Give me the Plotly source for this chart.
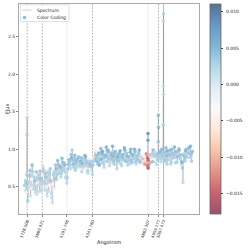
import plotly.graph_objects as go

wave = [3703, 3710, 3717, 3724, 3727, 3728.5, 3730, 3735, 3745, 3755, 3765, 3775, 3785, 3795,
        3805, 3815, 3825, 3835, 3845, 3855, 3865, 3870, 3878, 3885, 3895, 3905, 3915, 3925,
        3935, 3945, 3955, 3965, 3975, 3985, 3995, 4005, 4015, 4025, 4035, 4045, 4055, 4065,
        4075, 4085, 4095, 4101, 4110, 4120, 4130, 4140, 4150, 4160, 4170, 4180, 4190, 4200,
        4210, 4220, 4230, 4240, 4250, 4260, 4270, 4280, 4290, 4300, 4310, 4320, 4330, 4341,
        4350, 4366, 4370, 4380, 4390, 4400, 4410, 4420, 4430, 4440, 4450, 4460, 4470, 4480,
        4490, 4500, 4510, 4520, 4530, 4540, 4550, 4560, 4570, 4580, 4590, 4600, 4610, 4620,
        4630, 4640, 4650, 4660, 4670, 4680, 4690, 4700, 4710, 4720, 4730, 4740, 4750, 4760,
        4770, 4780, 4790, 4800, 4810, 4820, 4830, 4840, 4850, 4855, 4858, 4860, 4861, 4862,
        4863, 4865, 4868, 4872, 4878, 4885, 4895, 4905, 4915, 4925, 4935, 4945, 4955, 4958,
        4959, 4960, 4962, 4970, 4980, 4990, 5000, 5004, 5005, 5006, 5007, 5008, 5010, 5020,
        5030, 5040, 5050, 5060, 5070, 5080, 5090, 5100, 5110, 5120, 5130, 5140, 5150, 5160,
        5170, 5180, 5190, 5200, 5210, 5220, 5230, 5240, 5250, 5260, 5270, 5278]

flux = [0.52, 0.61, 0.45, 0.66, 1.19, 1.42, 0.55, 0.31, 0.57, 0.72, 0.48, 0.79, 0.52, 0.64,
        0.42, 0.70, 0.55, 0.66, 0.44, 0.61, 0.50, 0.58, 0.77, 0.72, 0.46, 0.63, 0.38, 0.70,
        0.52, 0.74, 0.41, 0.29, 0.66, 0.47, 0.79, 0.60, 0.85, 0.68, 0.78, 0.63, 0.88, 0.72,
        0.82, 0.70, 0.64, 0.55, 0.74, 0.86, 0.78, 0.93, 0.99, 0.80, 0.88, 0.72, 0.85, 0.76,
        0.90, 0.79, 0.84, 0.70, 0.87, 0.78, 0.92, 0.74, 0.86, 0.68, 0.83, 0.77, 0.88, 0.66,
        0.84, 0.98, 0.85, 0.92, 0.80, 0.95, 0.86, 1.01, 0.82, 0.93, 0.76, 0.90, 1.03, 0.84,
        0.97, 0.78, 0.92, 0.86, 1.04, 0.83, 0.95, 0.88, 0.74, 0.93, 0.85, 0.98, 0.80, 0.91,
        0.87, 1.02, 0.84, 0.95, 0.79, 0.90, 0.86, 1.00, 0.82, 0.93, 0.88, 0.97, 0.80, 0.92,
        0.85, 0.99, 0.83, 0.91, 0.87, 0.78, 0.90, 0.86, 0.83, 0.92, 0.78, 0.88, 1.12, 1.21,
        0.75, 0.85, 0.79, 0.93, 0.82, 0.90, 0.86, 0.95, 0.84, 0.97, 0.85, 0.92, 0.86, 1.10,
        1.45, 1.29, 0.90, 0.95, 0.85, 1.00, 0.88, 1.32, 1.84, 2.70, 2.80, 1.73, 0.93, 0.85,
        1.02, 0.80, 0.94, 0.87, 0.99, 0.83, 0.95, 0.89, 1.03, 0.82, 0.96, 0.90, 1.01, 0.85,
        0.93, 0.83, 0.56, 0.94, 0.88, 1.00, 0.86, 0.95, 0.90, 1.04, 0.84, 0.97]

color = [0.003, -0.004, 0.002, 0.003, 0.003, 0.002, 0.004, 0.003, 0.002, 0.004, -0.005, 0.005, 0.002, 0.003,
         0.001, 0.004, -0.003, 0.003, 0.002, 0.004, 0.001, 0.003, -0.008, 0.003, 0.002, 0.004, 0.001, 0.003,
         -0.004, 0.004, 0.002, 0.001, 0.003, -0.003, 0.004, 0.003, 0.005, 0.003, 0.004, 0.002, 0.005, 0.003,
         0.004, 0.003, 0.002, 0.002, 0.004, 0.005, 0.003, 0.004, 0.003, 0.005, 0.004, 0.003, 0.005, 0.002,
         0.004, 0.003, 0.005, 0.002, 0.004, 0.003, 0.005, -0.003, 0.004, 0.002, 0.003, 0.004, -0.004, 0.002,
         0.003, -0.006, 0.004, 0.005, 0.003, 0.006, 0.004, 0.005, 0.003, 0.005, 0.002, 0.004, 0.006, 0.003,
         0.005, 0.002, 0.004, 0.003, 0.006, 0.004, 0.005, 0.003, 0.002, 0.005, 0.004, 0.006, 0.003, 0.004,
         0.005, 0.006, 0.003, 0.004, 0.002, 0.005, 0.003, 0.006, 0.004, 0.005, 0.003, 0.005, 0.002, 0.004,
         0.003, 0.006, 0.004, 0.005, 0.003, -0.002, -0.004, -0.006, -0.009, -0.012, -0.014, -0.016, 0.008, 0.009,
         -0.017, -0.015, -0.013, -0.010, -0.011, -0.006, -0.003, 0.003, 0.004, 0.002, -0.005, 0.003, 0.004, 0.004,
         0.005, 0.005, 0.003, 0.004, 0.002, 0.005, 0.003, 0.003, 0.002, 0.002, 0.003, 0.002, 0.003, 0.004,
         0.005, 0.003, 0.004, 0.002, 0.005, 0.003, 0.004, 0.003, 0.006, 0.003, 0.004, 0.005, 0.003, -0.003,
         0.004, 0.007, 0.002, 0.003, 0.004, 0.005, 0.003, 0.004, -0.003, 0.006, 0.003, 0.005]

# additional in-between pixels of the spectrum
wave_b = [3713, 3720,
          3740, 3750, 3760, 3770, 3780, 3790, 3800, 3810, 3820, 3830, 3840, 3850, 3860,
          3874,
          3890, 3900, 3910, 3920, 3930, 3940, 3950, 3960, 3970, 3980, 3990, 4000, 4010, 4020,
          4030, 4040, 4050, 4060, 4070, 4080, 4090,
          4105, 4115, 4125, 4135, 4145, 4155, 4165, 4175, 4185, 4195, 4205, 4215, 4225, 4235,
          4245, 4255, 4265, 4275, 4285, 4295, 4305, 4315, 4325, 4335, 4345,
          4358,
          4375, 4385, 4395, 4405, 4415, 4425, 4435, 4445, 4455, 4465,
          4475, 4485, 4495, 4505, 4515, 4525, 4535, 4545, 4555, 4565,
          4575, 4585, 4595, 4605, 4615, 4625, 4635, 4645, 4655, 4665,
          4675, 4685, 4695, 4705, 4715, 4725, 4735, 4745, 4755, 4765,
          4775, 4785, 4795, 4805, 4815, 4825, 4835, 4845,
          4890, 4900, 4910, 4920, 4930, 4940, 4950,
          4965, 4975, 4985, 4995,
          5015, 5025, 5035, 5045, 5055, 5065, 5075, 5085, 5095, 5105,
          5115, 5125, 5135, 5145, 5155, 5165, 5175, 5185, 5195, 5205,
          5215, 5225, 5235, 5245, 5255, 5265]

flux_b = [0.58, 0.43,
          0.49, 0.65, 0.38, 0.60, 0.70, 0.47, 0.58, 0.66, 0.40, 0.62, 0.53, 0.71, 0.45,
          0.66,
          0.55, 0.68, 0.50, 0.60, 0.44, 0.67, 0.58, 0.36, 0.54, 0.70, 0.61, 0.74, 0.66, 0.80,
          0.71, 0.76, 0.68, 0.83, 0.74, 0.79, 0.62,
          0.62, 0.80, 0.84, 0.74, 0.88, 0.85, 0.76, 0.92, 0.81, 0.78, 0.88, 0.83, 0.73, 0.89,
          0.81, 0.86, 0.75, 0.90, 0.82, 0.71, 0.87, 0.80, 0.84, 0.72, 0.79,
          0.90,
          0.88, 0.83, 0.90, 0.79, 0.94, 0.87, 0.97, 0.81, 0.89, 0.92,
          0.84, 0.99, 0.88, 0.82, 0.95, 0.87, 0.91, 0.80, 0.97, 0.86,
          0.90, 0.83, 0.95, 0.89, 0.78, 0.93, 0.86, 0.99, 0.84, 0.91,
          0.88, 0.80, 0.96, 0.85, 0.92, 0.87, 1.00, 0.83, 0.90, 0.86,
          0.95, 0.82, 0.89, 0.92, 0.84, 0.88, 0.80, 0.94,
          0.92, 0.83, 0.99, 0.87, 0.91, 0.80, 0.94,
          0.88, 0.97, 0.83, 0.92,
          0.96, 0.84, 0.91, 0.98, 0.86, 0.92, 0.80, 1.00, 0.88, 0.93,
          0.85, 0.97, 0.83, 0.91, 0.99, 0.87, 0.80, 0.75, 0.92, 0.84,
          0.98, 0.90, 0.86, 1.02, 0.89, 0.93]

color_b = [0.003, -0.005,
           0.002, 0.004, 0.001, -0.004, 0.003, 0.002, 0.004, -0.003, 0.001, 0.003, 0.002, 0.004, 0.002,
           -0.006,
           0.003, 0.004, -0.004, 0.002, 0.001, 0.003, 0.004, 0.002, -0.005, 0.003, 0.004, 0.005, 0.003, 0.004,
           0.002, 0.005, 0.003, 0.004, 0.003, 0.005, 0.002,
           0.003, 0.005, 0.004, 0.002, 0.006, 0.004, 0.003, 0.005, 0.004, 0.002, 0.005, 0.003, -0.003, 0.004,
           0.005, 0.003, 0.002, 0.006, 0.004, 0.003, -0.005, 0.004, 0.003, 0.002, 0.004,
           -0.007,
           0.004, 0.005, 0.003, 0.006, 0.004, 0.005, 0.007, 0.003, 0.004, 0.005,
           0.003, 0.006, 0.004, 0.002, 0.005, 0.004, 0.006, 0.003, 0.005, 0.004,
           0.006, 0.003, 0.005, 0.004, 0.002, 0.005, 0.003, 0.006, 0.004, 0.005,
           0.003, 0.002, 0.006, 0.004, 0.005, 0.003, 0.006, 0.004, 0.003, 0.005,
           0.004, 0.002, -0.003, -0.004, -0.007, -0.010, -0.012, -0.013,
           0.003, 0.004, 0.005, -0.004, 0.003, 0.002, 0.004,
           0.003, 0.005, 0.002, 0.004,
           0.004, 0.003, 0.005, 0.006, 0.003, 0.004, 0.002, 0.005, 0.003, 0.004,
           -0.003, 0.005, 0.003, 0.004, 0.006, 0.003, 0.002, 0.004, 0.005, 0.003,
           0.006, 0.004, -0.004, 0.005, 0.003, 0.004]

line_waves = [3728.508, 3869.921, 4101.746, 4341.760, 4862.307, 4959.777, 5007.473]
line_labels = ["3728.508", "3869.921", "4101.746", "4341.760", "4862.307", "4959.777", "5007.473"]
line_styles = ["2px,1.2px", "2px,1.2px", "1px,1px", "2px,1.2px", "1px,1px", "2px,1.2px", "solid"]
line_colors = ["#a8a8a8", "#a8a8a8", "#d0d0d0", "#a8a8a8", "#d0d0d0", "#a8a8a8", "#a8a8a8"]

cbar_vals = [0.010, 0.005, 0.0, -0.005, -0.010, -0.015]
cbar_text = ["0.010", "0.005", "0.000", "\u22120.005", "\u22120.010", "\u22120.015"]

# merge the two sets of samples in wavelength order
rows = sorted(zip(wave + wave_b, flux + flux_b, color + color_b), key=lambda r: r[0])
all_wave = [r[0] for r in rows]
all_flux = [r[1] for r in rows]
all_color = [r[2] for r in rows]

cmin, cmax = min(all_color) - 0.0008, max(all_color) + 0.0021
rdbu = [(103, 0, 31), (178, 24, 43), (214, 96, 77), (244, 165, 130), (253, 219, 199), (247, 247, 247),
        (209, 229, 240), (146, 197, 222), (67, 147, 195), (33, 102, 172), (5, 48, 97)]


def blend(c, a=0.68):
    return "rgb(%d,%d,%d)" % tuple(round(a * v + (1 - a) * 255) for v in c)


cscale = [[i / 10, blend(c)] for i, c in enumerate(rdbu)]

W = H = 249
L, R, T, B = 19, 199, 4, 214
pw, ph = R - L, B - T


def px(xp):
    return (xp - L) / pw


def py(yp):
    return (B - yp) / ph


fig = go.Figure()
fig.add_trace(go.Scatter(x=all_wave, y=all_flux, mode="lines",
                         line=dict(color="rgba(128,128,128,0.45)", width=0.8),
                         showlegend=False, hoverinfo="skip"))
fig.add_trace(go.Scatter(x=all_wave, y=all_flux, mode="markers", showlegend=False,
                         marker=dict(size=3.6, color=all_color, colorscale=cscale, cmin=cmin, cmax=cmax,
                                     opacity=0.85, line=dict(width=0),
                                     colorbar=dict(x=px(210), xanchor="left", y=0, yanchor="bottom",
                                                   len=1, lenmode="fraction", thickness=11,
                                                   xpad=0, ypad=0, outlinewidth=0.8, outlinecolor="#666",
                                                   tickvals=cbar_vals, showticklabels=False,
                                                   ticks="outside", ticklen=2, tickcolor="#444"))))

# colorbar tick labels
for v, t in zip(cbar_vals, cbar_text):
    fig.add_annotation(xref="paper", yref="paper", x=px(223.5), y=(v - cmin) / (cmax - cmin),
                       text=t, showarrow=False, xanchor="left", yanchor="middle",
                       font=dict(size=4.5, color="#222"))

for w, s, c in zip(line_waves, line_styles, line_colors):
    fig.add_shape(type="line", xref="x", yref="paper", x0=w, x1=w, y0=0, y1=1,
                  line=dict(color=c, width=0.8, dash=s), layer="below")

# legend box
fig.add_shape(type="rect", xref="paper", yref="paper", x0=px(20.5), x1=px(69), y0=py(21.5), y1=py(4.8),
              line=dict(color="#d5d5d5", width=0.7), fillcolor="rgba(255,255,255,0.8)")
fig.add_shape(type="line", xref="paper", yref="paper", x0=px(22), x1=px(32), y0=py(10), y1=py(10),
              line=dict(color="rgba(190,190,190,0.8)", width=0.8))
fig.add_shape(type="circle", xref="paper", yref="paper", xsizemode="pixel", ysizemode="pixel",
              xanchor=px(24.5), yanchor=py(17.5), x0=-1.8, x1=1.8, y0=-1.8, y1=1.8,
              line=dict(width=0), fillcolor="rgba(110,170,215,0.8)")
fig.add_annotation(xref="paper", yref="paper", x=px(35), y=py(10), text="Spectrum", showarrow=False,
                   xanchor="left", yanchor="middle", font=dict(size=4.5, color="#222"))
fig.add_annotation(xref="paper", yref="paper", x=px(35), y=py(17.5), text="Color Coding", showarrow=False,
                   xanchor="left", yanchor="middle", font=dict(size=4.5, color="#222"))

# axis titles
fig.add_annotation(xref="paper", yref="paper", x=px(109), y=py(242), text="Angstrom", showarrow=False,
                   xanchor="center", yanchor="middle", font=dict(size=5, color="#222"))
fig.add_annotation(xref="paper", yref="paper", x=px(7), y=py(109), text="Flux", showarrow=False,
                   textangle=-90, xanchor="center", yanchor="middle", font=dict(size=5, color="#222"))

fig.update_layout(
    width=W, height=H,
    margin=dict(l=L, r=W - R, t=T, b=H - B, autoexpand=False),
    paper_bgcolor="white", plot_bgcolor="white",
    font=dict(family="DejaVu Sans", size=5, color="#222"),
    showlegend=False,
    xaxis=dict(range=[3652, 5340], tickvals=line_waves, ticktext=line_labels, tickangle=-70,
               showgrid=False, zeroline=False, showline=True, linecolor="#aaa", linewidth=1,
               mirror=True, ticks="outside", ticklen=2, tickcolor="#888", automargin=False,
               tickfont=dict(size=4)),
    yaxis=dict(range=[0.14, 2.93], tickvals=[0.5, 1.0, 1.5, 2.0, 2.5],
               ticktext=["0.5", "1.0", "1.5", "2.0", "2.5"], automargin=False,
               showgrid=False, zeroline=False, showline=True, linecolor="#aaa", linewidth=1,
               mirror=True, ticks="outside", ticklen=2, tickcolor="#888",
               tickfont=dict(size=4.5)),
)

fig.write_html("out.html", config={"displayModeBar": False},
               post_script="document.body.style.margin='0';document.body.style.overflow='hidden';")
